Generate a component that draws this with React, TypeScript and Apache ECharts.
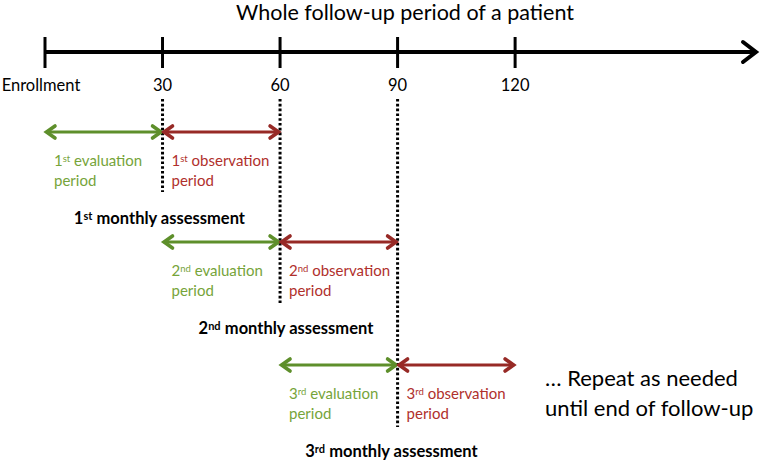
import React, { useEffect, useRef } from 'react';
import * as echarts from 'echarts';

// ---- data ----
const titleText = 'Whole follow-up period of a patient';
const tickDays = [0, 30, 60, 90, 120];
const tickLabels = ['Enrollment', '30', '60', '90', '120'];
const axisEndDay = 182;
const ordinalNumbers = ['1', '2', '3'];
const ordinalSuffixes = ['st', 'nd', 'rd'];
const evaluationStart = [0, 30, 60];
const assessmentDay = [30, 60, 90];
const observationEnd = [60, 90, 120];
const repeatNote = ['\u2026 Repeat as needed', 'until end of follow-up'];

// ---- layout ----
const AXIS_Y = 52;
const ROW_Y = [132, 242, 365];
const DOT_TOP = 99;
const DOT_BOTTOM = [192, 303, 427];
const ASSESS_DX = [-3, 6, -6];
const FONT = 'Lato, "Open Sans", sans-serif';
const GREEN_ARROW = '#5e8f2b';
const GREEN_TEXT = '#76a43a';
const RED_ARROW = '#972a26';
const RED_TEXT = '#b0302c';

function doubleArrow(x1: number, x2: number, y: number, color: string) {
  const hl = 10;
  const hw = 6;
  const style = { stroke: color, lineWidth: 3, fill: null, lineCap: 'round', lineJoin: 'miter' };
  const headStyle = { ...style, lineWidth: 3.6 };
  return [
    { type: 'line', shape: { x1: x1 + 2, y1: y, x2: x2 - 2, y2: y }, style },
    { type: 'polyline', shape: { points: [[x1 + hl, y - hw], [x1 + 1.5, y], [x1 + hl, y + hw]] }, style: headStyle },
    { type: 'polyline', shape: { points: [[x2 - hl, y - hw], [x2 - 1.5, y], [x2 - hl, y + hw]] }, style: headStyle },
  ];
}

const rich = {
  gn: { fontFamily: FONT, fontSize: 15, lineHeight: 20, fill: GREEN_TEXT },
  gs: { fontFamily: FONT, fontSize: 9.5, lineHeight: 20, verticalAlign: 'top', padding: [3, 0, 0, 0], fill: GREEN_TEXT },
  rn: { fontFamily: FONT, fontSize: 15, lineHeight: 20, fill: RED_TEXT },
  rs: { fontFamily: FONT, fontSize: 9.5, lineHeight: 20, verticalAlign: 'top', padding: [3, 0, 0, 0], fill: RED_TEXT },
  bn: { fontFamily: FONT, fontSize: 16.5, fontWeight: 'bold', lineHeight: 22, fill: '#000' },
  bs: { fontFamily: FONT, fontSize: 11, fontWeight: 'bold', lineHeight: 22, verticalAlign: 'top', padding: [3, 0, 0, 0], fill: '#000' },
};

export default function App() {
  const ref = useRef<HTMLDivElement>(null);
  useEffect(() => {
    if (!ref.current) return;
    const chart = echarts.init(ref.current, null, { renderer: 'svg' });
    const option: any = {
      animation: false,
      backgroundColor: '#fff',
      grid: { left: 45, right: 3, top: 0, bottom: 0 },
      xAxis: { type: 'value', min: 0, max: axisEndDay, show: false },
      yAxis: { type: 'value', min: 0, max: 1, show: false },
      graphic: [
        {
          type: 'text',
          x: 405,
          y: 12,
          style: { text: titleText, font: `21.5px ${FONT}`, fill: '#000', align: 'center', verticalAlign: 'middle' },
        },
        {
          type: 'text',
          x: 545,
          y: 362,
          style: {
            text: repeatNote.join('\n'),
            font: `22px ${FONT}`,
            lineHeight: 30,
            fill: '#000',
            align: 'left',
            verticalAlign: 'top',
          },
        },
      ],
      series: [
        {
          type: 'custom',
          name: 'timeline',
          data: [[0, axisEndDay]],
          renderItem: (_p: any, api: any) => {
            const x0 = api.coord([api.value(0), 0])[0];
            const x1 = api.coord([api.value(1), 0])[0];
            const style = { stroke: '#000', lineWidth: 4, fill: null };
            return {
              type: 'group',
              children: [
                { type: 'line', shape: { x1: x0, y1: AXIS_Y, x2: x1 - 2, y2: AXIS_Y }, style },
                {
                  type: 'polyline',
                  shape: { points: [[x1 - 15, AXIS_Y - 10], [x1 - 2, AXIS_Y], [x1 - 15, AXIS_Y + 10]] },
                  style: { ...style, lineCap: 'round', lineJoin: 'miter' },
                },
              ],
            };
          },
        },
        {
          type: 'custom',
          name: 'ticks',
          data: tickDays.map((d) => [d, 0]),
          renderItem: (p: any, api: any) => {
            const x = api.coord([api.value(0), 0])[0];
            return {
              type: 'group',
              children: [
                { type: 'line', shape: { x1: x, y1: AXIS_Y - 15, x2: x, y2: AXIS_Y + 16 }, style: { stroke: '#000', lineWidth: 3 } },
                {
                  type: 'text',
                  style: {
                    text: tickLabels[p.dataIndex],
                    x: p.dataIndex === 0 ? x - 4 : x,
                    y: 85,
                    align: 'center',
                    verticalAlign: 'middle',
                    font: `16.5px ${FONT}`,
                    fill: '#000',
                  },
                },
              ],
            };
          },
        },
        {
          type: 'custom',
          name: 'assessments',
          data: assessmentDay.map((d) => [d, 0]),
          renderItem: (p: any, api: any) => {
            const x = api.coord([api.value(0), 0])[0];
            return {
              type: 'line',
              shape: { x1: x, y1: DOT_TOP, x2: x, y2: DOT_BOTTOM[p.dataIndex] },
              style: { stroke: '#000', lineWidth: 3, lineDash: [2.6, 2.2] },
            };
          },
        },
        {
          type: 'custom',
          name: 'periods',
          data: ordinalNumbers.map((_o, i) => [evaluationStart[i], assessmentDay[i], observationEnd[i]]),
          renderItem: (p: any, api: any) => {
            const i = p.dataIndex;
            const xs = api.coord([api.value(0), 0])[0];
            const xa = api.coord([api.value(1), 0])[0];
            const xe = api.coord([api.value(2), 0])[0];
            const y = ROW_Y[i];
            const n = ordinalNumbers[i];
            const s = ordinalSuffixes[i];
            return {
              type: 'group',
              children: [
                ...doubleArrow(xs, xa, y, GREEN_ARROW),
                ...doubleArrow(xa, xe, y, RED_ARROW),
                {
                  type: 'text',
                  style: {
                    text: `{gn|${n}}{gs|${s}}{gn| evaluation}\n{gn|period}`,
                    rich,
                    x: xs + 9,
                    y: y + 18,
                    align: 'left',
                    verticalAlign: 'top',
                  },
                },
                {
                  type: 'text',
                  style: {
                    text: `{rn|${n}}{rs|${s}}{rn| observation}\n{rn|period}`,
                    rich,
                    x: xa + 9,
                    y: y + 18,
                    align: 'left',
                    verticalAlign: 'top',
                  },
                },
                {
                  type: 'text',
                  style: {
                    text: `{bn|${n}}{bs|${s}}{bn| monthly assessment}`,
                    rich,
                    x: xa + ASSESS_DX[i],
                    y: y + 86,
                    align: 'center',
                    verticalAlign: 'middle',
                  },
                },
              ],
            };
          },
        },
      ],
    };
    chart.setOption(option);
    return () => chart.dispose();
  }, []);
  return <div ref={ref} style={{ position: 'absolute', left: 0, top: 0, width: 761, height: 462 }} />;
}
